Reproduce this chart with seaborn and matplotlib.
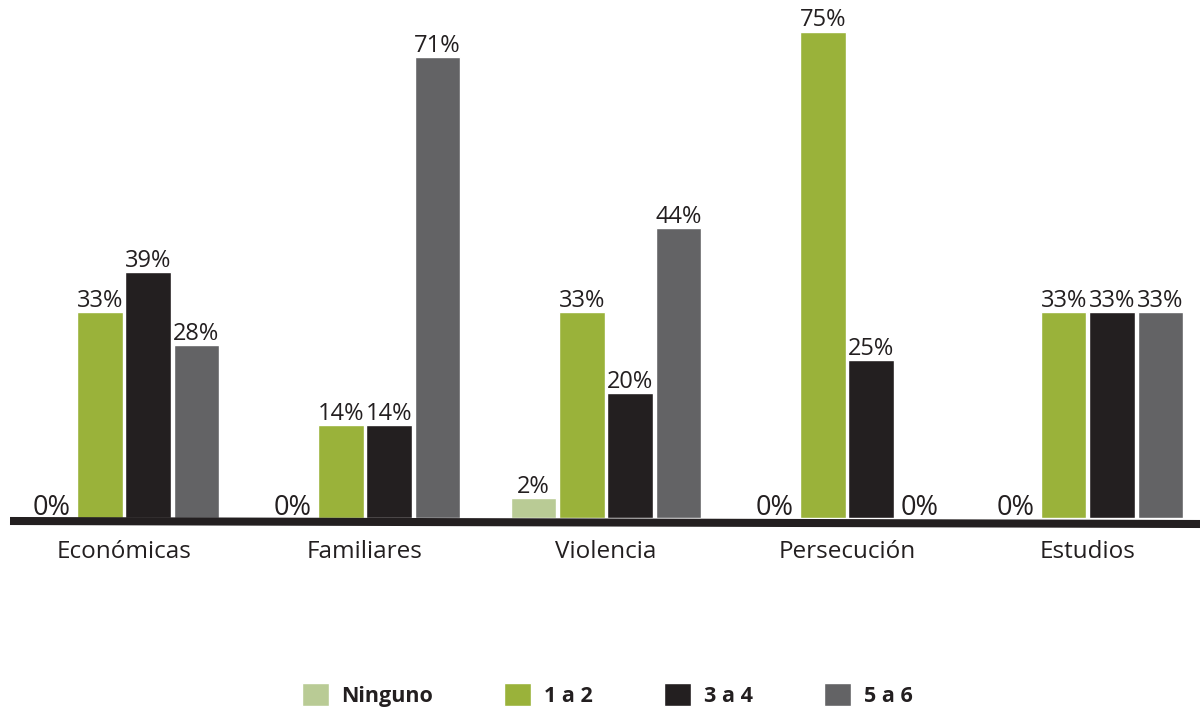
import numpy as np
import pandas as pd
import matplotlib.pyplot as plt
import seaborn as sns
from matplotlib.lines import Line2D

# ===========================================================
# Données (hauteurs, étiquettes telles qu'affichées)
# ===========================================================

categorias = ["Económicas", "Familiares", "Violencia", "Persecución", "Estudios"]
series = ["Ninguno", "1 a 2", "3 a 4", "5 a 6"]

ninguno = [0, 0, 3.1, 0, 0]
uno_a_dos = [31.7, 14.3, 31.7, 75, 31.7]
tres_a_cuatro = [37.9, 14.3, 19.3, 24.4, 31.7]
cinco_a_seis = [26.7, 71.1, 44.7, 0, 31.7]

etiquetas = {
    "Ninguno": ["0%", "0%", "2%", "0%", "0%"],
    "1 a 2": ["33%", "14%", "33%", "75%", "33%"],
    "3 a 4": ["39%", "14%", "20%", "25%", "33%"],
    "5 a 6": ["28%", "71%", "44%", "0%", "33%"],
}

colores = ["#b9cb95", "#9ab23a", "#231f20", "#636365"]
texto = "#231f20"

df = pd.DataFrame({
    "categoria": np.repeat(categorias, len(series)),
    "serie": series * len(categorias),
    "valor": np.ravel(np.column_stack([ninguno, uno_a_dos, tres_a_cuatro, cinco_a_seis])),
})

# ===========================================================
# Figure
# ===========================================================

sns.set_style("white")
plt.rcParams["font.family"] = ["Open Sans", "DejaVu Sans"]

fig = plt.figure(figsize=(12, 7.12), dpi=100)
ax = fig.add_axes([0, 1 - 518 / 712, 1, 518 / 712])

sns.barplot(
    data=df,
    x="categoria",
    y="valor",
    hue="serie",
    order=categorias,
    hue_order=series,
    palette=colores,
    width=0.8,
    gap=0.06,
    saturation=1,
    ax=ax,
)

for cont, serie in zip(ax.containers, series):
    textos = ax.bar_label(cont, labels=etiquetas[serie], padding=-0.5,
                          fontsize=17, color=texto)
    # les "0%" sont écrits plus gros dans l'original
    for t in textos:
        if t.get_text() == "0%":
            t.set_fontsize(19.5)
            t.xyann = (0, -3)

ax.set_xlim(-0.5145, 4.465)
ax.set_ylim(0, 79.9)
ax.set_xlabel("")
ax.set_ylabel("")
ax.set_yticks([])
ax.tick_params(axis="x", length=0, pad=16, labelsize=17.5, labelcolor=texto)
sns.despine(ax=ax, left=True, bottom=True)

# ligne de base épaisse, légèrement inclinée
fig.add_artist(Line2D([10 / 1200, 1.0], [1 - 521 / 712, 1 - 524 / 712],
                      color=texto, linewidth=5.8, solid_capstyle="butt"))

# légende en bas
handles, labels = ax.get_legend_handles_labels()
ax.get_legend().remove()
fig.legend(
    handles, labels,
    loc="center",
    bbox_to_anchor=(607 / 1200, 1 - 695 / 712),
    ncol=4,
    frameon=False,
    prop={"weight": "bold", "size": 15.5},
    labelcolor=texto,
    handlelength=1.25,
    handleheight=1.25,
    handletextpad=0.6,
    columnspacing=3.3,
)

fig.savefig("out.png", dpi=100)
